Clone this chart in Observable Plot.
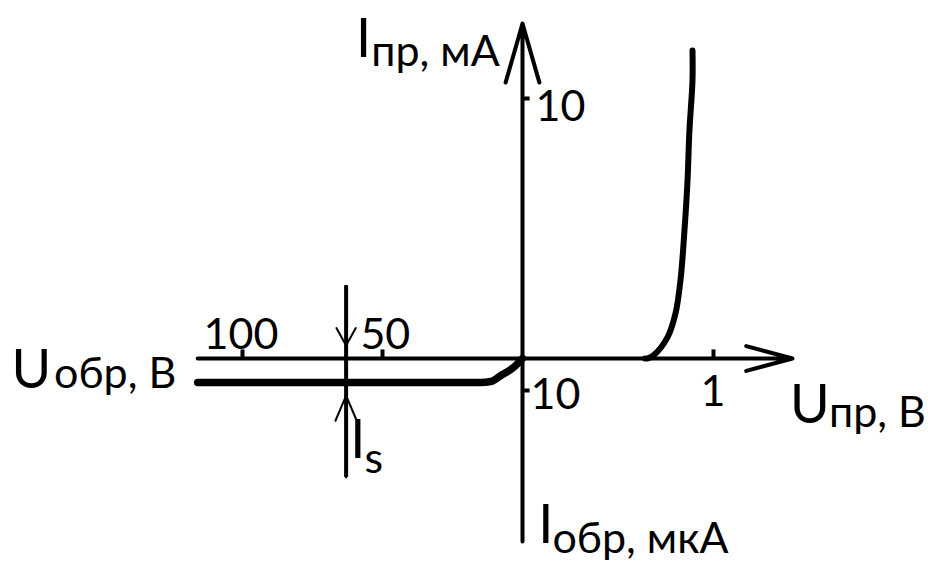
<!DOCTYPE html>
<html><head><meta charset="utf-8">
<script src="https://cdn.jsdelivr.net/npm/d3@7"></script>
<script src="https://cdn.jsdelivr.net/npm/@observablehq/plot@0.6"></script>
<style>body{margin:0;background:#fff} svg{display:block}</style>
</head><body><div id="chart"></div>
<script>
// Forward branch: U (V) vs I (mA)
const forwardU = [0.64, 0.654, 0.686, 0.759, 0.801, 0.827, 0.848, 0.864, 0.874, 0.890, 0.890];
const forwardI = [0, 0, 0.12, 0.81, 1.73, 3.0, 4.92, 6.85, 8.77, 10.7, 11.85];
// Reverse branch: U (V, negative) vs I (µA, negative)
const reverseU = [-116, -15, -11.3, -7.7, -3.2, 0];
const reverseI = [-7.5, -7.5, -7.2, -5.3, -2.8, 0];
// Axis extents
const xAxisExtent = [-116, 1.414];
const yAxisExtent = [-57.2, 12.88];
// Tick values and labels
const xTicks = [-100, -50, 1];
const xTickLabels = ["100", "50", "1"];
const yTicks = [10, -10];
const yTickLabels = ["10", "10"];
// Saturation current marker (Is)
const isU = -63;
const isSpan = [-37.2, 2.8];
const isArrowTips = [0.5, -11.6];
// Axis titles: main letter + subscript
const titleMain = ["I", "U", "U", "I", "I"];
const titleSub = ["пр, мА", "обр, В", "пр, В", "s", "обр, мкА"];
const titleX = [-59.5, -182.5, 1.40, -61.5, 0.083];
const titleY = [11.58, -9.3, -20.3, -31, -57.8];
const subX = [-54.0, -167.3, 1.605, -56.4, 0.157];
const subY = [11.25, -9.3, -21.3, -35.9, -60.9];
// Tick label anchor positions
const tickLabelX = [-113.9, -57.9, 0.932, 0.068, 0.042];
const tickLabelY = [0.35, 0.35, -14.7, 9.15, -15.9];

const fwd = forwardU.map((u, i) => ({u, i: forwardI[i]}));
const rev = reverseU.map((u, i) => ({u, i: reverseI[i]}));
const tickLabels = [...xTickLabels, ...yTickLabels].map((t, k) => ({t, x: tickLabelX[k], y: tickLabelY[k]}));
const titles = titleMain.map((m, k) => ({m, s: titleSub[k], x: titleX[k], y: titleY[k], sx: subX[k], sy: subY[k]}));

const font = "Lato, 'Open Sans', sans-serif";
const chart = Plot.plot({
  width: 928, height: 574, margin: 0,
  style: {background: "#fff", fontFamily: font},
  x: {type: "linear", domain: [-100, 0, 1], range: [242, 522, 713], axis: null},
  y: {type: "linear", domain: [-10, 0, 10], range: [390, 358, 98], axis: null},
  marks: [
    Plot.arrow([0], {x1: xAxisExtent[0], x2: xAxisExtent[1], y1: 0, y2: 0, stroke: "#000", strokeWidth: 4, headLength: 18, headAngle: 30}),
    Plot.arrow([0], {x1: 0, x2: 0, y1: yAxisExtent[0], y2: yAxisExtent[1], stroke: "#000", strokeWidth: 4, headLength: 23, headAngle: 32}),
    Plot.ruleX(xTicks, {x: d => d, y1: 0, y2: 0.33, stroke: "#000", strokeWidth: 4}),
    Plot.ruleY(yTicks, {y: d => d, x1: 0, x2: 0.04, stroke: "#000", strokeWidth: 4}),
    Plot.ruleX([isU], {x: d => d, y1: isSpan[0], y2: isSpan[1], stroke: "#000", strokeWidth: 4}),
    Plot.arrow([0], {x1: isU, x2: isU, y1: isSpan[1], y2: isArrowTips[0], stroke: "#000", strokeWidth: 2, headLength: 15, headAngle: 58}),
    Plot.arrow([0], {x1: isU, x2: isU, y1: isSpan[0], y2: isArrowTips[1], stroke: "#000", strokeWidth: 2, headLength: 22, headAngle: 46}),
    Plot.line(rev, {x: "u", y: "i", stroke: "#000", strokeWidth: 7.5, curve: "monotone-x"}),
    Plot.line(fwd, {x: "u", y: "i", stroke: "#000", strokeWidth: 6, curve: "catmull-rom"}),
    Plot.text(tickLabels, {x: "x", y: "y", text: "t", textAnchor: "start", lineAnchor: "bottom", fontSize: 43, fill: "#000"}),
    Plot.text(titles, {x: "x", y: "y", text: "m", textAnchor: "start", lineAnchor: "bottom", fontSize: 54, fill: "#000"}),
    Plot.text(titles, {x: "sx", y: "sy", text: "s", textAnchor: "start", lineAnchor: "bottom", fontSize: 43, fill: "#000"})
  ]
});
document.getElementById("chart").append(chart);
</script>
</body></html>
